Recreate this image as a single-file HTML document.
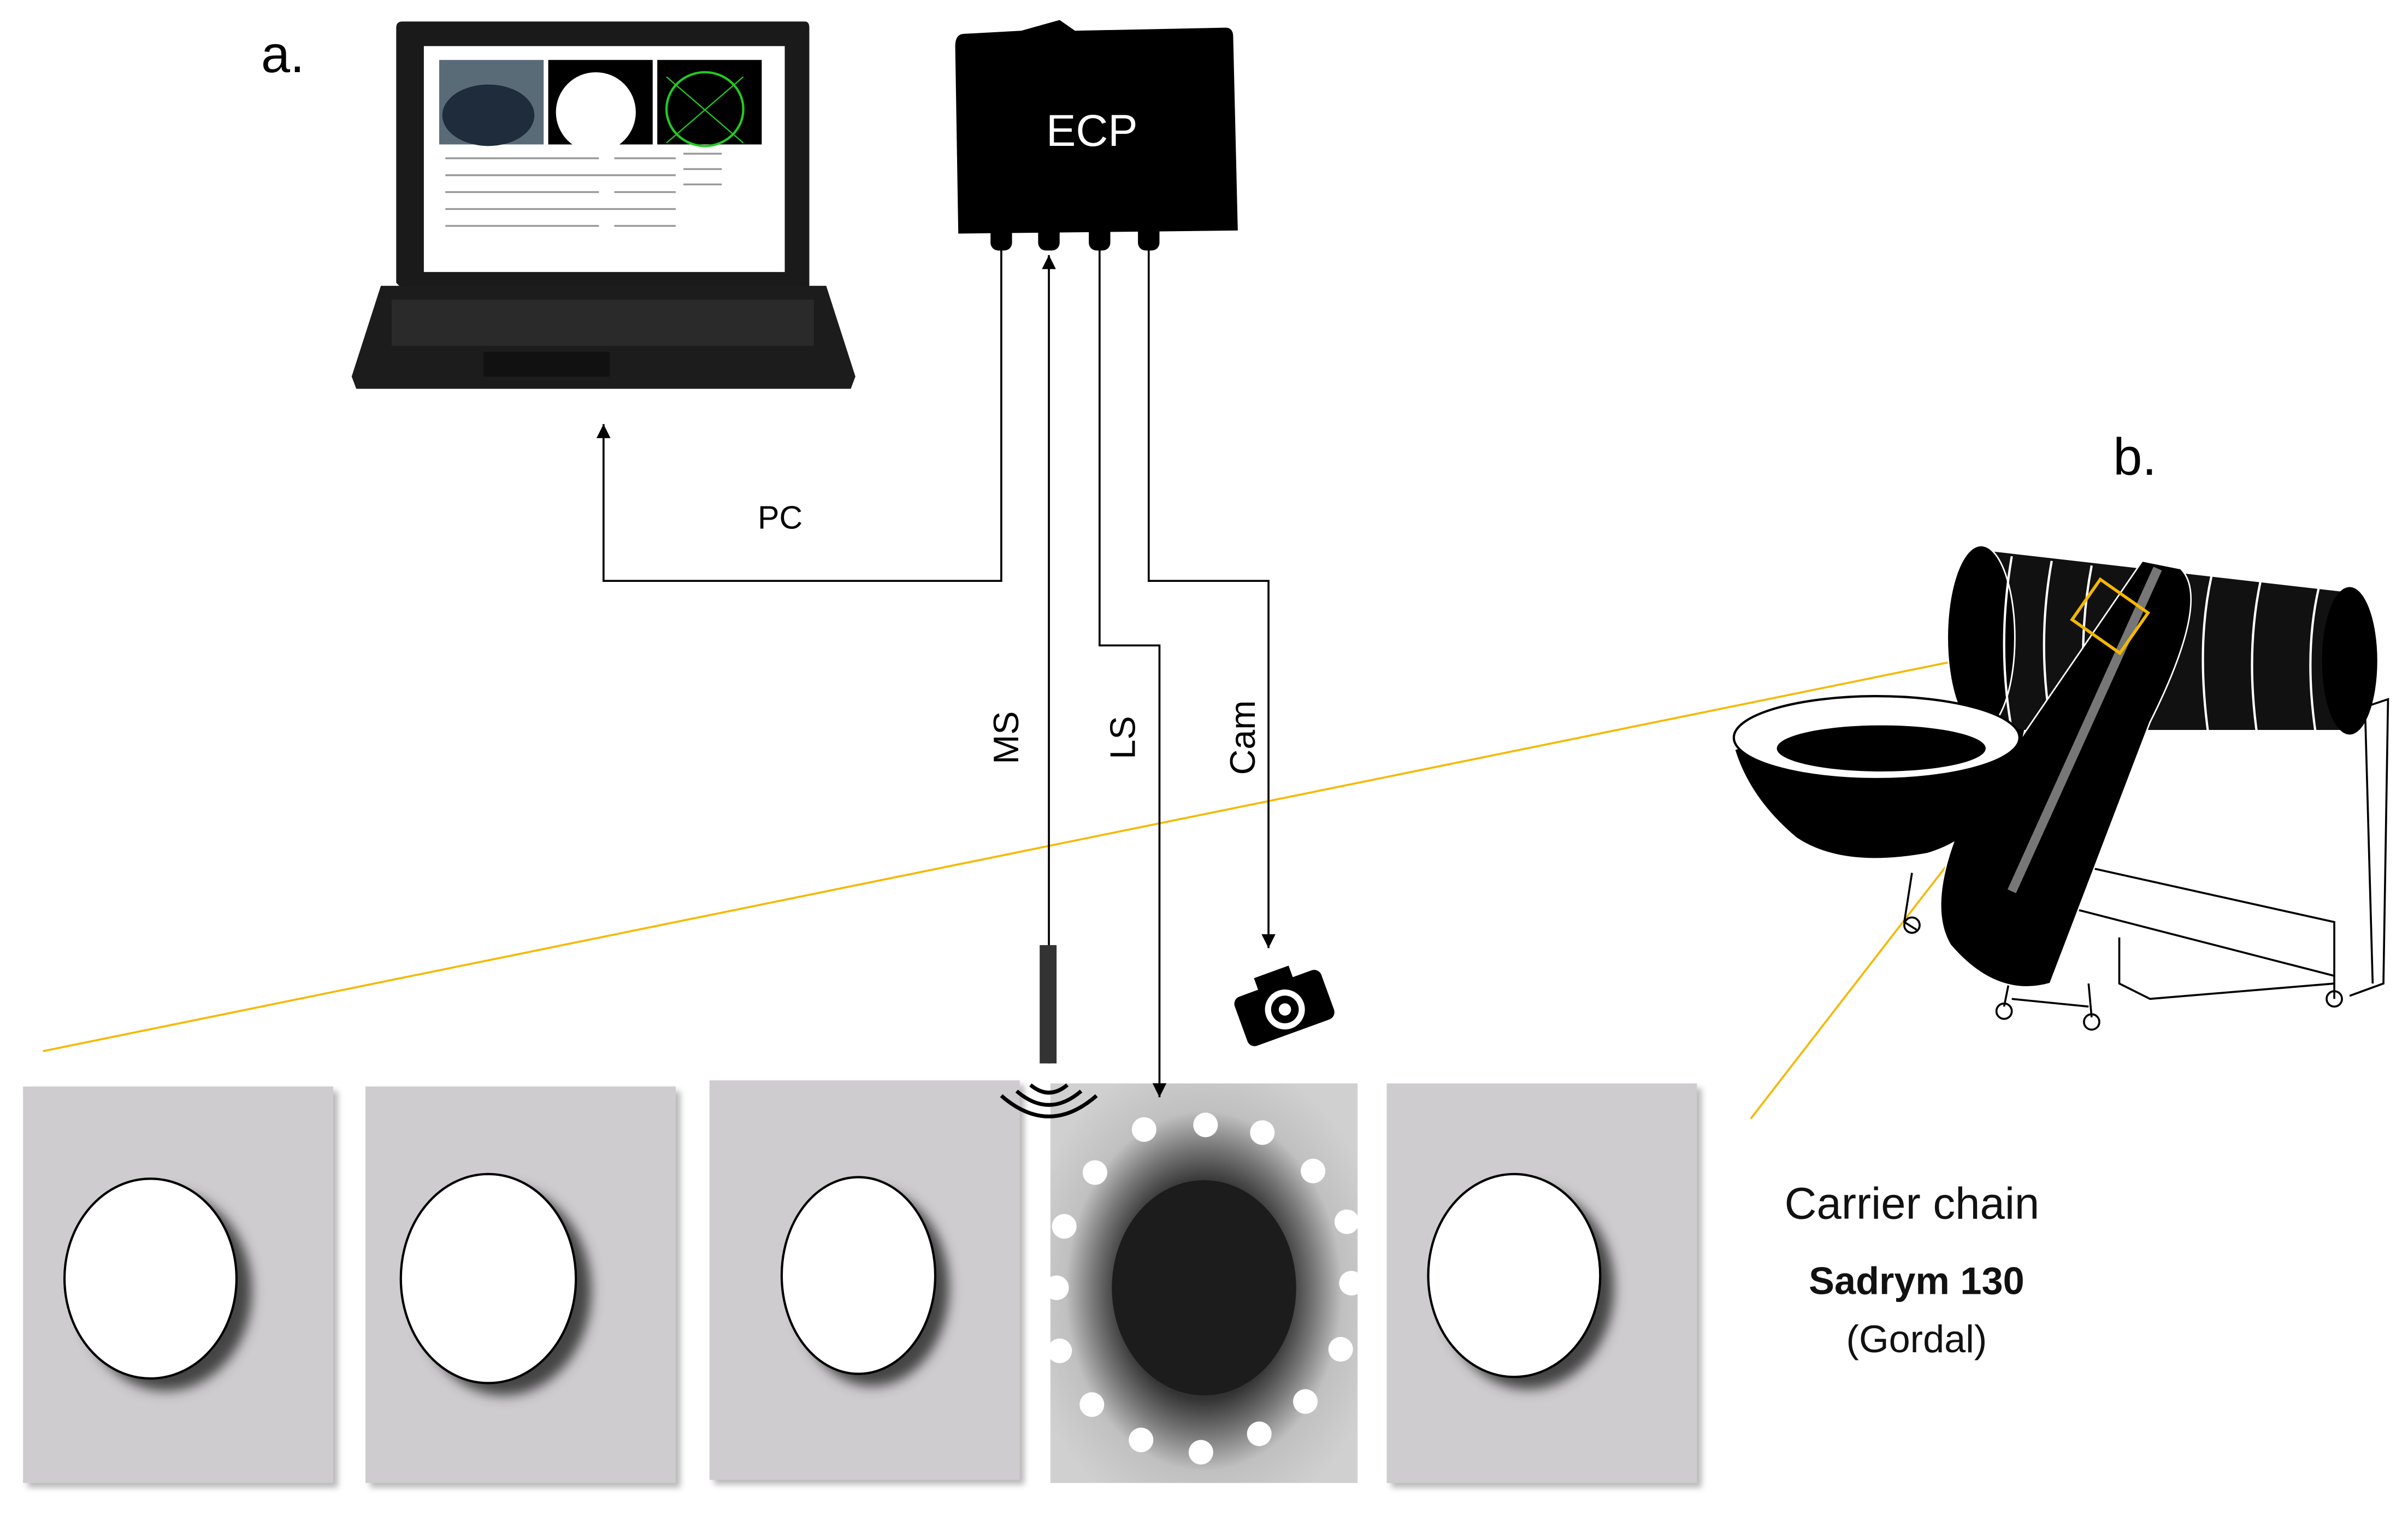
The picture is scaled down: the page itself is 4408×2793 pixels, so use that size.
<!DOCTYPE html>
<html><head><meta charset="utf-8"><style>
html,body{margin:0;padding:0;background:#fff;}
svg{display:block;}
text{font-family:"Liberation Sans","DejaVu Sans",sans-serif;}
</style></head><body>
<svg width="4408" height="2793" viewBox="0 0 1568 993" preserveAspectRatio="none" xmlns="http://www.w3.org/2000/svg">
<defs>
<filter id="sh" x="-30%" y="-30%" width="160%" height="160%"><feGaussianBlur stdDeviation="4"/></filter>
<filter id="ps" x="-10%" y="-10%" width="120%" height="120%"><feGaussianBlur stdDeviation="2"/></filter>
<radialGradient id="rg" cx="50%" cy="52%" r="60%">
<stop offset="0" stop-color="#222"/><stop offset="0.45" stop-color="#333"/><stop offset="0.6" stop-color="#777"/><stop offset="0.75" stop-color="#c0c0c0"/><stop offset="1" stop-color="#d0d0d0"/></radialGradient>
<marker id="ah" viewBox="0 0 10 10" refX="10" refY="5" markerWidth="12" markerHeight="7" orient="auto"><path d="M0,0L10,5L0,10z" fill="#000"/></marker>
</defs>
<text x="170" y="47" font-size="34">a.</text>
<text x="1376" y="309" font-size="34">b.</text>

<!-- laptop -->
<path d="M262,14 L524,14 Q527,14 527,18 L527,188 L262,188 L258,184 L258,18 Q258,14 262,14z" fill="#1a1a1a"/>
<rect x="276" y="30" width="235" height="147" fill="#fff"/>
<rect x="286" y="39" width="68" height="55" fill="#5a6b78"/>
<ellipse cx="318" cy="75" rx="30" ry="20" fill="#1f2c3c"/>
<rect x="357" y="39" width="68" height="55" fill="#000"/>
<ellipse cx="388" cy="73" rx="26" ry="26" fill="#fff"/>
<rect x="428" y="39" width="68" height="55" fill="#000"/>
<ellipse cx="459" cy="71" rx="25" ry="24" fill="none" stroke="#2c2" stroke-width="1.5"/>
<path d="M434,50L484,93M484,50L434,93" stroke="#2c2" stroke-width="0.8"/>
<g stroke="#999" stroke-width="1.2">
<path d="M290,103h100M290,114h110M290,125h100M290,136h110M290,147h100M400,103h40M400,114h40M400,125h40M400,136h40M400,147h40M445,100h25M445,110h25M445,120h25"/>
</g>
<path d="M248,186 L538,186 L557,245 L554,253 L232,253 L229,245z" fill="#1c1c1c"/>
<rect x="255" y="195" width="275" height="30" fill="#2a2a2a"/>
<rect x="315" y="229" width="82" height="16" fill="#111"/>

<!-- ECP -->
<path d="M628,22 L665,20 L690,13 L700,20 L798,18 Q803,18 803,24 L806,150 L624,152 L622,30 Q622,22 628,22z" fill="#000"/>
<text x="711" y="95" font-size="29" fill="#fff" text-anchor="middle">ECP</text>
<rect x="645" y="145" width="14" height="18" rx="5" fill="#000"/>
<rect x="676" y="145" width="14" height="18" rx="5" fill="#000"/>
<rect x="709" y="145" width="14" height="18" rx="5" fill="#000"/>
<rect x="741" y="145" width="14" height="18" rx="5" fill="#000"/>

<text x="508" y="344" font-size="21" text-anchor="middle">PC</text>
<text transform="translate(663,480) rotate(-90)" font-size="23" text-anchor="middle">MS</text>
<text transform="translate(739,480) rotate(-90)" font-size="23" text-anchor="middle">LS</text>
<text transform="translate(817,480) rotate(-90)" font-size="23" text-anchor="middle">Cam</text>

<!-- camera -->
<g transform="translate(836,655) rotate(-20)">
<rect x="-30" y="-16" width="60" height="34" rx="5" fill="#000"/>
<rect x="-12" y="-24" width="24" height="10" fill="#000"/>
<circle cx="0" cy="2" r="13" fill="#fff"/><circle cx="0" cy="2" r="9" fill="#000"/><circle cx="0" cy="2" r="4" fill="#fff"/>
</g>

<!-- yellow lines -->
<path d="M28,684 L1362,412" stroke="#f5b800" stroke-width="1.3"/>
<path d="M1140,728 L1380,418" stroke="#f5b800" stroke-width="1.3"/>

<!-- panels -->
<g filter="url(#ps)" fill="#888" opacity="0.6">
<rect x="18" y="710" width="202" height="258"/><rect x="241" y="710" width="202" height="258"/><rect x="465" y="706" width="202" height="260"/><rect x="906" y="708" width="202" height="260"/>
</g>
<rect x="15" y="707" width="202" height="258" fill="#cfcccf"/>
<rect x="238" y="707" width="202" height="258" fill="#cfcccf"/>
<rect x="462" y="703" width="202" height="260" fill="#cfcccf"/>
<rect x="903" y="705" width="202" height="260" fill="#cfcccf"/>
<rect x="684" y="705" width="200" height="260" fill="url(#rg)"/>
<g fill="#444" filter="url(#sh)">
<ellipse cx="108" cy="840" rx="56" ry="65"/><ellipse cx="328" cy="840" rx="57" ry="68"/><ellipse cx="568" cy="838" rx="50" ry="64"/><ellipse cx="995" cy="838" rx="56" ry="66"/>
</g>
<g fill="#fff" stroke="#000" stroke-width="1.5">
<ellipse cx="98" cy="832" rx="56" ry="65"/><ellipse cx="318" cy="832" rx="57" ry="68"/><ellipse cx="559" cy="830" rx="50" ry="64"/><ellipse cx="986" cy="830" rx="56" ry="66"/>
</g>
<ellipse cx="784" cy="838" rx="60" ry="70" fill="#1c1c1c"/>
<g fill="#fff">
<circle cx="745" cy="735" r="8"/><circle cx="785" cy="732" r="8"/><circle cx="822" cy="737" r="8"/><circle cx="855" cy="762" r="8"/><circle cx="877" cy="795" r="8"/><circle cx="880" cy="835" r="8"/><circle cx="873" cy="878" r="8"/><circle cx="850" cy="912" r="8"/><circle cx="820" cy="933" r="8"/><circle cx="782" cy="945" r="8"/><circle cx="743" cy="937" r="8"/><circle cx="711" cy="914" r="8"/><circle cx="690" cy="879" r="8"/><circle cx="688" cy="838" r="8"/><circle cx="693" cy="798" r="8"/><circle cx="713" cy="763" r="8"/>
</g>
<g fill="none" stroke="#000" stroke-width="2.5">
<path d="M671,706 Q683,716 695,706"/><path d="M662,710 Q683,728 704,710"/><path d="M652,713 Q683,740 714,713"/>
</g>

<!-- connectors -->
<g fill="none" stroke="#000" stroke-width="1.3">
<path d="M652,162 V378 H393 V276" marker-end="url(#ah)"/>
<path d="M683,692 V166" marker-end="url(#ah)"/>
<path d="M716,162 V420 H755 V714" marker-end="url(#ah)"/>
<path d="M748,162 V378 H826 V617" marker-end="url(#ah)"/>
</g>
<rect x="677" y="615" width="11" height="77" fill="#333"/>

<text x="1245" y="793" font-size="29" text-anchor="middle" fill="#111">Carrier chain</text>
<text x="1248" y="842" font-size="25" font-weight="bold" text-anchor="middle" fill="#111">Sadrym 130</text>
<text x="1248" y="880" font-size="25" text-anchor="middle" fill="#111">(Gordal)</text>

<!-- machine -->
<g fill="none" stroke="#000" stroke-width="1.3">
<path d="M1370,470 L1540,460 L1555,455 L1552,640 L1530,648"/>
<path d="M1540,460 L1545,640"/>
<path d="M1340,560 L1520,600 L1520,650"/>
<path d="M1345,590 L1520,635"/>
<path d="M1380,610 L1380,640 L1400,650 L1520,640"/>
<path d="M1245,568 L1240,600 L1248,605"/><circle cx="1245" cy="602" r="5"/>
<path d="M1310,630 L1305,655"/><circle cx="1305" cy="658" r="5"/>
<path d="M1360,640 L1362,662"/><circle cx="1362" cy="665" r="5"/>
<circle cx="1520" cy="650" r="5"/>
<path d="M1310,650 L1360,655"/>
</g>
<path d="M1290,358 L1525,385 L1530,475 L1290,475 Q1265,420 1290,358z" fill="#111"/>
<ellipse cx="1290" cy="415" rx="22" ry="60" fill="#000" stroke="#fff" stroke-width="1"/>
<ellipse cx="1530" cy="430" rx="18" ry="48" fill="#000"/>
<g stroke="#fff" stroke-width="1.5" fill="none">
<path d="M1310,362 Q1300,420 1310,475"/><path d="M1336,365 Q1326,420 1336,475"/><path d="M1362,368 Q1352,420 1360,475"/><path d="M1440,375 Q1430,420 1438,478"/><path d="M1472,378 Q1462,425 1470,480"/><path d="M1510,382 Q1500,425 1508,478"/>
</g>
<path d="M1395,365 L1420,370 Q1440,390 1400,470 L1335,640 Q1300,650 1270,615 Q1255,590 1275,540z" fill="#000" stroke="#fff" stroke-width="1"/>
<path d="M1405,370 L1310,580" stroke="#777" stroke-width="6"/>
<path d="M1130,488 Q1220,455 1318,475 Q1305,540 1255,555 Q1200,565 1170,545 Q1140,520 1130,488z" fill="#000"/>
<ellipse cx="1222" cy="480" rx="93" ry="27" fill="#fff" stroke="#000" stroke-width="1.5"/>
<ellipse cx="1225" cy="487" rx="68" ry="15" fill="#000"/>
<rect x="1355" y="385" width="38" height="32" fill="none" stroke="#f5b800" stroke-width="2" transform="rotate(35 1374 401)"/>
</svg>
</body></html>
